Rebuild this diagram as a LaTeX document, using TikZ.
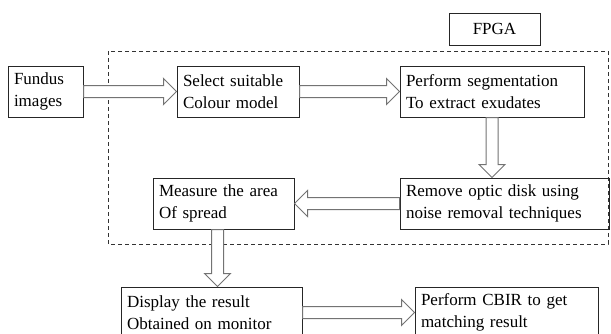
\documentclass[tikz,border=0pt]{standalone}
\usepackage{fontspec}
\setmainfont{Liberation Serif}
\usetikzlibrary{calc, positioning}

\begin{document}
\begin{tikzpicture}[
		x=0.75pt, y=-0.75pt,
		box/.style={draw=black!85, line width=0.75pt, align=left, inner xsep=4.5pt, minimum height=38.25pt, font=\fontsize{12.75}{16.5}\selectfont},
		arrow/.style={draw=black!55, fill=white, line width=0.75pt, line join=miter,
			to path={($(\tikztostart)!4.5pt!90:(\tikztotarget)$)
				-- ($(\tikztotarget)!10.74pt!-24.78:(\tikztostart)$)
				-- ($(\tikztotarget)!13.79pt!-45:(\tikztostart)$)
				-- (\tikztotarget)
				-- ($(\tikztotarget)!13.79pt!45:(\tikztostart)$)
				-- ($(\tikztotarget)!10.74pt!24.78:(\tikztostart)$)
				-- ($(\tikztostart)!4.5pt!-90:(\tikztotarget)$) -- cycle}}
		]
		\useasboundingbox (0,0) rectangle (611,333);
		
		% FPGA region
		\draw[black!80, line width=0.75pt, dash pattern=on 3pt off 2.25pt] (108,51) rectangle (608,244);
		\node[box, align=center, minimum width=68.25pt, minimum height=24pt] (fpga) at (494.5,29) {FPGA};
		
		% Nodes
		\node[box, text width=47.25pt] (fundus) at (45.5,91.5) {Fundus\\images};
		
		\node[box, text width=82.5pt, right=69.75pt of fundus] (select) {Select suitable\\Colour model};
		
		\node[box, text width=129pt, right=75pt of select] (segment) {Perform segmentation\\To extract exudates};
		
		\node[box, text width=147.75pt, below=45pt of segment.south west, anchor=north west] (remove) {Remove optic disk using\\noise removal techniques};
		
		\node[box, text width=96.75pt, left=78.75pt of remove] (measure) {Measure the area\\Of spread};
		
		\node[box, text width=126.75pt, below=42.75pt of measure, xshift=-9pt] (display) {Display the result\\Obtained on monitor};
		
		\node[box, text width=128.25pt, right=84pt of display] (cbir) {Perform CBIR to get\\matching result};
		
		% Arrows
		\draw[arrow] (fundus.east) to (select.west);
		\draw[arrow] (select.east) to (segment.west);
		\draw[arrow] (segment.south) to (segment.south |- remove.north);
		\draw[arrow] (remove.west) to (measure.east);
		\draw[arrow] ([xshift=-4.5pt]measure.south) to ([xshift=-4.5pt]display.north -| measure.south);
		\draw[arrow] (display.east) to (cbir.west);
		
	\end{tikzpicture}
\end{document}
